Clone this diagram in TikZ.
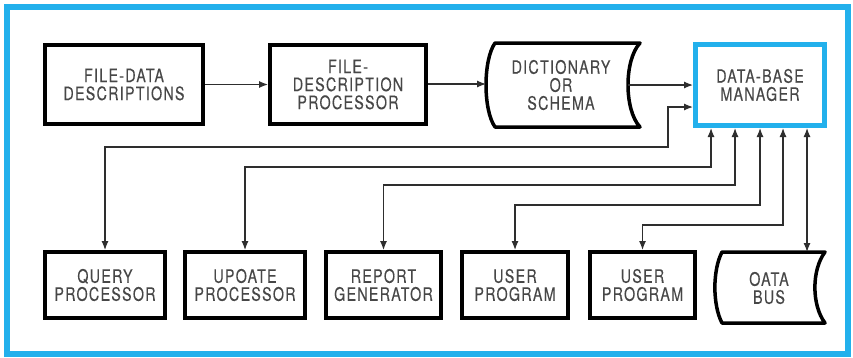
\documentclass[tikz,border=0pt]{standalone}
\usepackage{fontspec}
\usetikzlibrary{arrows.meta}
\newfontfamily\lab{TeX Gyre Heros}[FakeStretch=0.77,LetterSpace=7,FakeBold=0.15]
\definecolor{frameblue}{HTML}{22B0EC}
\definecolor{txt}{HTML}{474747}
\definecolor{ln}{HTML}{2E2E2E}
\tikzset{
  lbl/.style={font=\lab\fontsize{18.5}{18}\selectfont, text=txt, align=center},
  box/.style={lbl, draw=black, line width=4pt, rectangle, inner sep=0pt},
  dbox/.style={lbl, draw=frameblue, line width=5pt, rectangle, inner sep=0pt},
  shp/.style={draw=black, line width=3.5pt, line join=round},
  conn/.style={draw=ln, line width=1.2pt, -{Latex[length=9pt,width=7pt]}},
  biconn/.style={draw=ln, line width=1.2pt, {Latex[length=9pt,width=7pt]}-{Latex[length=9pt,width=7pt]}},
}
\begin{document}
\begin{tikzpicture}[x=1pt,y=-1pt]
\useasboundingbox (0,0) rectangle (853,357);
\fill[white] (0,0) rectangle (853,357);
\draw[frameblue, line width=6pt] (6.5,7) rectangle (848,354);

% top row
\node[box, minimum width=158, minimum height=79] (fd) at (124,84.5) {FILE-DATA\\DESCRIPTIONS};
\node[box, minimum width=156, minimum height=79] (fdp) at (348,84.5) {FILE-\\DESCRIPTION\\PROCESSOR};
\draw[shp] (495,43) -- (640,43) .. controls (624,60) and (624,110) .. (640,127)
  -- (495,127) .. controls (483,110) and (483,60) .. (495,43) -- cycle;
\node[lbl] (dict) at (561,85) {DICTIONARY\\OR\\SCHEMA};
\coordinate (dictL) at (486,84);
\coordinate (dictR) at (628,85);
\node[dbox, minimum width=129, minimum height=81] (dbm) at (760,85) {DATA-BASE\\MANAGER};

% bottom row
\node[box, minimum width=120, minimum height=66] (qp) at (105,285) {QUERY\\PROCESSOR};
\node[box, minimum width=120, minimum height=66] (upd) at (245,285) {UPOATE\\PROCESSOR};
\node[box, minimum width=115, minimum height=66] (rg) at (383.5,285) {REPORT\\GENERATOR};
\node[box, minimum width=106, minimum height=66] (up1) at (515,285) {USER\\PROGRAM};
\node[box, minimum width=105, minimum height=66] (up2) at (642.5,285) {USER\\PROGRAM};
\draw[shp] (722,252) -- (825,252) .. controls (811.5,270) and (811.5,305) .. (825,323)
  -- (722,323) .. controls (712.5,305) and (712.5,270) .. (722,252) -- cycle;
\node[lbl] (bus) at (769,288) {OATA\\BUS};
\coordinate (busT) at (807,252);

% connectors top
\draw[conn] (fd.east) -- (fdp.west);
\draw[conn] (fdp.east |- dictL) -- (dictL);
\draw[conn] (dictR) -- (dbm.west |- dictR);

% connectors to bottom
\coordinate (qa) at (668,147);
\coordinate (ua) at (711,167);
\coordinate (ra) at (735,185);
\coordinate (p1) at (760,205);
\coordinate (p2) at (783,225);
\draw[biconn] (qp.north) |- (qa) -- (668,107) -- (dbm.west |- 0,107);
\draw[biconn] (upd.north) |- (ua) -- (dbm.south -| ua);
\draw[biconn] (rg.north) |- (ra) -- (dbm.south -| ra);
\draw[biconn] (up1.north) |- (p1) -- (dbm.south -| p1);
\draw[biconn] (up2.north) |- (p2) -- (dbm.south -| p2);
\draw[biconn] (busT) -- (dbm.south -| busT);
\end{tikzpicture}
\end{document}
